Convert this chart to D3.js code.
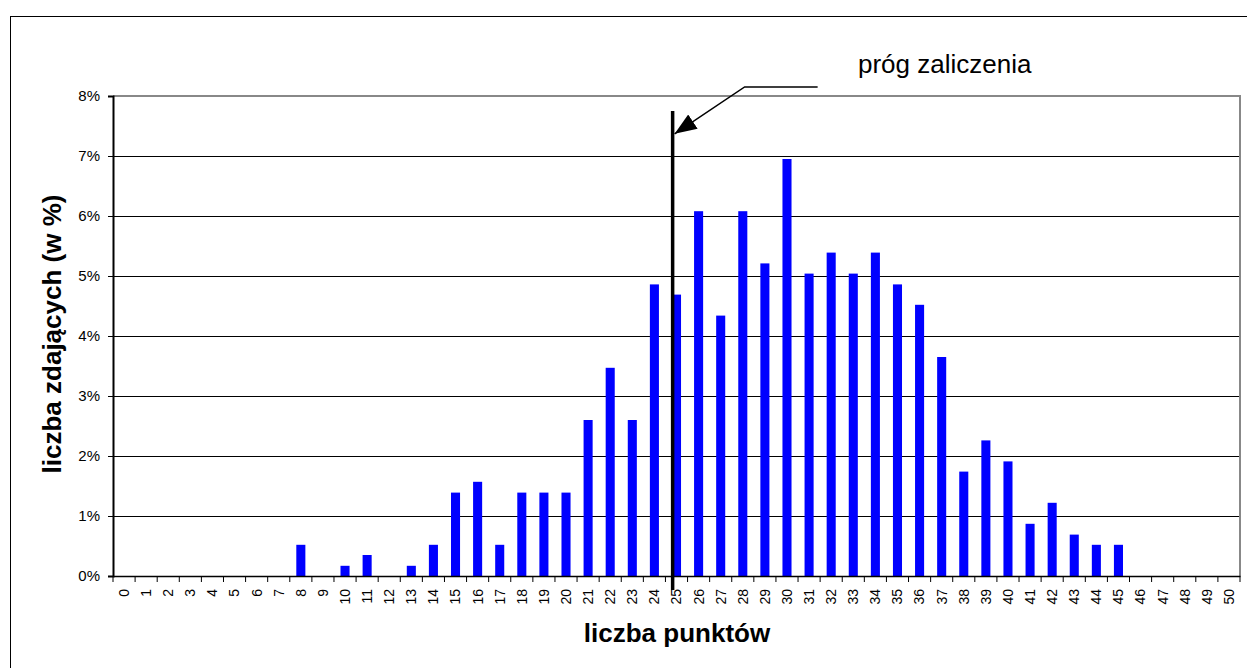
<!DOCTYPE html>
<html>
<head>
<meta charset="utf-8">
<script src="https://cdn.jsdelivr.net/npm/d3@7"></script>
<style>
html, body { margin: 0; padding: 0; background: #fff; }
svg { display: block; font-family: "Liberation Sans", Arial, sans-serif; }
</style>
</head>
<body>
<svg id="chart" width="1247" height="668"></svg>
<script>
const categories = d3.range(0, 51).map(String);
const values = [0,0,0,0,0,0,0,0,0.52,0,0.17,0.35,0,0.17,0.52,1.39,1.57,0.52,1.39,1.39,1.39,
  2.60,3.47,2.60,4.86,4.69,6.08,4.34,6.08,5.21,6.95,5.04,5.39,5.04,5.39,4.86,4.52,3.65,
  1.74,2.26,1.91,0.87,1.22,0.69,0.52,0.52,0,0,0,0,0];
const yTicks = [0,1,2,3,4,5,6,7,8];
const yTickLabels = yTicks.map(d => d + "%");
const threshold = "25";
const annotationText = "próg zaliczenia";
const yTitle = "liczba zdających (w %)";
const xTitle = "liczba punktów";

const svg = d3.select("#chart");
const margin = {left: 113, top: 96, right: 1240, bottom: 576};

// outer frame
svg.append("rect").attr("x", 10.5).attr("y", 16.5).attr("width", 1260).attr("height", 700)
  .attr("fill", "none").attr("stroke", "#000").attr("stroke-width", 1);

const x = d3.scaleBand().domain(categories).range([margin.left, margin.right]).paddingInner(0.59).paddingOuter(0.295);
const y = d3.scaleLinear().domain([0, 8]).range([margin.bottom, margin.top]);

// gridlines
svg.append("g").selectAll("line").data(yTicks.filter(d => d > 0 && d < 8)).join("line")
  .attr("x1", margin.left).attr("x2", margin.right)
  .attr("y1", d => Math.round(y(d)) + 0.5).attr("y2", d => Math.round(y(d)) + 0.5)
  .attr("stroke", "#000").attr("stroke-width", 1);

// plot area top/right border (gray)
svg.append("path")
  .attr("d", `M${margin.left},${y(8)}H${margin.right}V${y(0)}`)
  .attr("fill", "none").attr("stroke", "#888").attr("stroke-width", 2);

// bars
svg.append("g").selectAll("rect").data(values).join("rect")
  .attr("x", (d, i) => x(categories[i]))
  .attr("width", x.bandwidth())
  .attr("y", d => y(d))
  .attr("height", d => y(0) - y(d))
  .attr("fill", "#0000ff");

// y axis
const yAxis = d3.axisLeft(y).tickValues(yTicks).tickFormat((d, i) => yTickLabels[i]).tickSize(5).tickPadding(8);
const gy = svg.append("g").attr("transform", `translate(${margin.left},0)`).call(yAxis);
gy.select(".domain").attr("stroke", "#000").attr("stroke-width", 2);
gy.selectAll(".tick line").attr("stroke", "#000");
gy.selectAll("text").attr("font-size", 15).attr("fill", "#000").attr("font-family", "Liberation Sans, Arial, sans-serif");

// x axis
const xAxis = d3.axisBottom(x).tickSize(0).tickSizeOuter(0);
const gx = svg.append("g").attr("transform", `translate(0,${y(0)})`).call(xAxis);
gx.select(".domain").attr("stroke", "#000").attr("stroke-width", 1.5);
gx.selectAll(".tick text")
  .attr("font-size", 14).attr("fill", "#000").attr("font-family", "Liberation Sans, Arial, sans-serif")
  .attr("transform", "rotate(-90)")
  .attr("text-anchor", "end")
  .attr("dy", "0.35em")
  .attr("x", -13).attr("y", 0);
// tick marks at band boundaries
const bounds = categories.map(c => x(c) - x.step() * x.paddingInner() / 2).concat([margin.right]);
gx.append("g").selectAll("line").data(bounds).join("line")
  .attr("x1", d => d).attr("x2", d => d).attr("y1", 0).attr("y2", 6)
  .attr("stroke", "#000").attr("stroke-width", 1);

// threshold line
const lx = x(threshold) + x.step() * 0.03;
svg.append("line").attr("x1", lx).attr("x2", lx)
  .attr("y1", y(7.75)).attr("y2", y(0) + 14)
  .attr("stroke", "#000").attr("stroke-width", 3.5);

// annotation arrow
const tipX = lx + 2, tipY = y(7.37);
const elbowX = lx + 72, elbowY = y(8) - 9;
const endX = elbowX + 73;
svg.append("defs").append("marker").attr("id", "arrow")
  .attr("viewBox", "0 0 10 10").attr("refX", 10).attr("refY", 5)
  .attr("markerWidth", 22).attr("markerHeight", 17).attr("markerUnits", "userSpaceOnUse")
  .attr("orient", "auto")
  .attr("preserveAspectRatio", "none")
  .append("path").attr("d", "M0,0L10,5L0,10Z").attr("fill", "#000");
svg.append("path")
  .attr("d", `M${endX},${elbowY}H${elbowX}L${tipX},${tipY}`)
  .attr("fill", "none").attr("stroke", "#000").attr("stroke-width", 1.5)
  .attr("marker-end", "url(#arrow)");

svg.append("text").attr("x", 858).attr("y", 73)
  .attr("font-size", 26).attr("fill", "#000").text(annotationText);

// titles
svg.append("text")
  .attr("transform", `translate(61,${(y(0) + y(8)) / 2 - 2}) rotate(-90)`)
  .attr("text-anchor", "middle")
  .attr("font-size", 26).attr("font-weight", "bold").attr("fill", "#000")
  .text(yTitle);
svg.append("text")
  .attr("x", 677).attr("y", 642)
  .attr("text-anchor", "middle")
  .attr("font-size", 26).attr("font-weight", "bold").attr("fill", "#000")
  .text(xTitle);
</script>
</body>
</html>
